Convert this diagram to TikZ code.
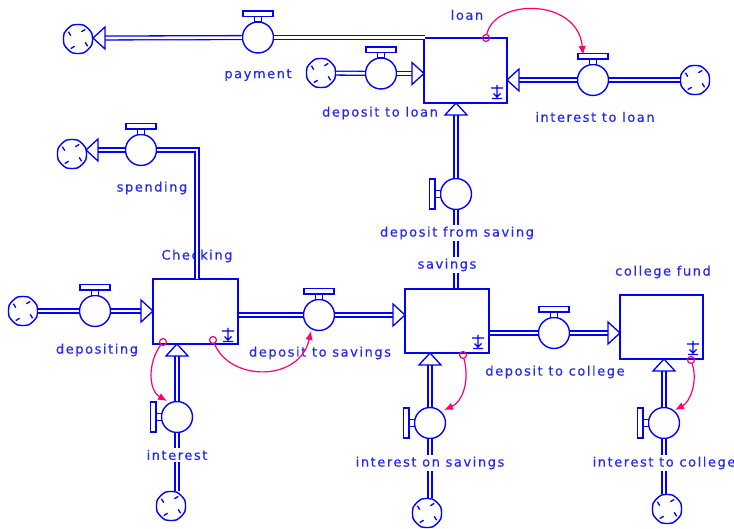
\documentclass[tikz,border=0pt]{standalone}
\usepackage{fontspec}
\newfontfamily\labfont[LetterSpace=12,FakeBold=0.4]{DejaVu Sans}
\usetikzlibrary{arrows.meta}
\definecolor{flowblue}{RGB}{0,0,255}
\definecolor{txtblue}{RGB}{40,40,245}
\definecolor{linkpink}{RGB}{255,0,110}
\tikzset{
  pics/vtop/.style={code={
    \draw[flowblue,line width=1.2pt,fill=white] (-3.5,-15.5) rectangle (3.5,-21);
    \draw[flowblue,line width=1.2pt,fill=white] (-15,-21) rectangle (15,-26.5);}},
  pics/vleft/.style={code={
    \draw[flowblue,line width=1.2pt,fill=white] (-15.5,-3.5) rectangle (-21,3.5);
    \draw[flowblue,line width=1.2pt,fill=white] (-21,-15) rectangle (-26.5,15);}},
  pics/cloudpic/.style={code={
    \draw[flowblue,line width=1.4pt,fill=white] (22.5:15) to[bend left=12] (67.5:15)
      to[bend left=12] (112.5:15) to[bend left=12] (157.5:15) to[bend left=12] (202.5:15)
      to[bend left=12] (247.5:15) to[bend left=12] (292.5:15) to[bend left=12] (337.5:15)
      to[bend left=12] (22.5:15);
    \foreach \a in {25,115,205,295}
      \draw[flowblue,line width=1.3pt] (\a:8) -- ({\a+12}:12);}},
  pics/aR/.style={code={\draw[flowblue,line width=1.3pt,fill=white,line join=miter] (0,0) -- (-12,-11) -- (-12,11) -- cycle;}},
  pics/aL/.style={code={\draw[flowblue,line width=1.3pt,fill=white,line join=miter] (0,0) -- (12,-11) -- (12,11) -- cycle;}},
  pics/aU/.style={code={\draw[flowblue,line width=1.3pt,fill=white,line join=miter] (0,0) -- (-11,12) -- (11,12) -- cycle;}},
  pics/smark/.style={code={
    \draw[flowblue,line width=1.3pt] (0,-7) -- (0,5) (-6,-4) -- (6,-4) (-3.5,1.5) -- (0,5) -- (3.5,1.5) (-5,6.5) -- (5,6.5);}},
  stockbox/.style={draw=flowblue, line width=1.4pt, fill=white, rectangle, inner sep=0},
  valve/.style={circle, draw=flowblue, line width=1.4pt, fill=white, minimum size=31pt, inner sep=0},
  cloudnode/.style={circle, minimum size=30pt, inner sep=0},
  pipe/.style={draw=flowblue, line width=1.3pt, double=white, double distance=2.6pt},
  lab/.style={font={\labfont\fontsize{13pt}{15pt}\selectfont}, text=txtblue, inner sep=1.5pt},
  labw/.style={lab, fill=white},
  linkdot/.style={circle, draw=linkpink, line width=1.2pt, minimum size=7pt, inner sep=0},
  link/.style={draw=linkpink, line width=1.2pt, -{Latex[length=9pt,width=7.5pt]}},
}
\begin{document}
\begin{tikzpicture}[x=1pt,y=-1pt]
\useasboundingbox[fill=white] (0,0) rectangle (734,529);

% stocks
\node[stockbox, minimum width=83pt, minimum height=65pt] (loan) at (465.5,70.5) {};
\node[stockbox, minimum width=85pt, minimum height=65pt] (checking) at (195.5,311.5) {};
\node[stockbox, minimum width=84pt, minimum height=64pt] (savings) at (447,321) {};
\node[stockbox, minimum width=83pt, minimum height=64pt] (college) at (661.5,327) {};
\pic at (497,92) {smark};
\pic at (228,335) {smark};
\pic at (478,342) {smark};
\pic at (693,348) {smark};

\node[lab] (lloan) at (467,15) {loan};
\node[lab] (lchecking) at (197,256) {Checking};
\node[lab] (lcollege) at (663,272) {college fund};

% valves
\node[valve] (payment) at (258,37.5) {};
\node[valve] (dtl) at (381,73.5) {};
\node[valve] (itl) at (593,80) {};
\node[valve] (dfs) at (456,194) {};
\node[valve] (spending) at (141,150) {};
\node[valve] (depositing) at (95,311) {};
\node[valve] (dts) at (319,315) {};
\node[valve] (interest) at (177,417) {};
\node[valve] (ios) at (430,423) {};
\node[valve] (dtc) at (554,333) {};
\node[valve] (itc) at (664,423) {};
\foreach \v in {payment,dtl,itl,spending,depositing,dts,dtc} \pic at (\v) {vtop};
\foreach \v in {dfs,interest,ios,itc} \pic at (\v) {vleft};

% clouds
\node[cloudnode] (c1) at (78,39) {};
\node[cloudnode] (c2) at (321,73) {};
\node[cloudnode] (c3) at (695,80) {};
\node[cloudnode] (c4) at (72,154) {};
\node[cloudnode] (c5) at (23,311) {};
\node[cloudnode] (c6) at (171,506) {};
\node[cloudnode] (c7) at (427,513) {};
\node[cloudnode] (c8) at (667,509) {};
\foreach \c in {c1,c2,c3,c4,c5,c6,c7,c8} \pic at (\c) {cloudpic};

% arrow tips and bases
\coordinate (payS) at (425,37.5);
\coordinate (payTip) at (93,38);   \coordinate (payBase) at (104,38);
\coordinate (dtlTip) at (424,73.5); \coordinate (dtlBase) at (413,73.5);
\coordinate (itlTip) at (507,80);  \coordinate (itlBase) at (518,80);
\coordinate (dfsTip) at (456,103); \coordinate (dfsBase) at (456,114);
\coordinate (spS) at (197,279);
\coordinate (spTip) at (86,150);   \coordinate (spBase) at (97,150);
\coordinate (depTip) at (153,311); \coordinate (depBase) at (142,311);
\coordinate (dtsTip) at (405,315); \coordinate (dtsBase) at (394,315);
\coordinate (intTip) at (177,344); \coordinate (intBase) at (177,355);
\coordinate (iosTip) at (430,353); \coordinate (iosBase) at (430,364);
\coordinate (dtcTip) at (620,333); \coordinate (dtcBase) at (609,333);
\coordinate (itcTip) at (664,359); \coordinate (itcBase) at (664,370);

% pipes
\draw[pipe] (payS) -- (payment);
\draw[pipe] (payment) -- (payBase);
\draw[pipe] (c2) -- (dtl);
\draw[pipe] (dtl) -- (dtlBase);
\draw[pipe] (c3) -- (itl);
\draw[pipe] (itl) -- (itlBase);
\draw[pipe] (savings.north -| dfs) -- (dfs);
\draw[pipe] (dfs) -- (dfsBase);
\draw[pipe] (spS) |- (spending);
\draw[pipe] (spending) -- (spBase);
\draw[pipe] (c5) -- (depositing);
\draw[pipe] (depositing) -- (depBase);
\draw[pipe] (checking.east |- dts) -- (dts);
\draw[pipe] (dts) -- (dtsBase);
\draw[pipe] (c6.north -| interest) -- (interest);
\draw[pipe] (interest) -- (intBase);
\draw[pipe] (c7.north -| ios) -- (ios);
\draw[pipe] (ios) -- (iosBase);
\draw[pipe] (savings.east |- dtc) -- (dtc);
\draw[pipe] (dtc) -- (dtcBase);
\draw[pipe] (c8.north -| itc) -- (itc);
\draw[pipe] (itc) -- (itcBase);

\pic at (payTip) {aL};
\pic at (dtlTip) {aR};
\pic at (itlTip) {aL};
\pic at (dfsTip) {aU};
\pic at (spTip) {aL};
\pic at (depTip) {aR};
\pic at (dtsTip) {aR};
\pic at (intTip) {aU};
\pic at (iosTip) {aU};
\pic at (dtcTip) {aR};
\pic at (itcTip) {aU};

% labels
\node[lab] (lpayment) at (258,75) {payment};
\node[labw, inner sep=3pt] (ldtl) at (380,113) {deposit to loan};
\node[lab] (litl) at (595,117) {interest to loan};
\node[labw] (ldfs) at (457,233) {deposit from saving};
\node[labw] (lsavings) at (447,265) {savings};
\node[lab] (lspending) at (152,188) {spending};
\node[lab] (ldepositing) at (97,350) {depositing};
\node[lab] (ldts) at (320,353) {deposit to savings};
\node[labw] (linterest) at (177,455) {interest};
\node[labw] (lios) at (430,463) {interest on savings};
\node[lab] (ldtc) at (555,372) {deposit to college};
\node[labw] (litc) at (664,463) {interest to college};

% information links
\node[linkdot] (d1) at (486,38) {};
\node[linkdot] (d2) at (163,342) {};
\node[linkdot] (d3) at (213,340) {};
\node[linkdot] (d4) at (463,355) {};
\node[linkdot] (d5) at (691,360) {};
\coordinate (e1) at (583,55);
\coordinate (e2) at (167,401);
\coordinate (e3) at (311,331);
\coordinate (e4) at (444,410);
\coordinate (e5) at (675,410);
\draw[link] (d1) .. controls (495,-2) and (578,-2) .. (e1);
\draw[link] (d2) .. controls (148,362) and (148,390) .. (e2);
\draw[link] (d3) .. controls (230,382) and (300,382) .. (e3);
\draw[link] (d4) .. controls (470,382) and (462,402) .. (e4);
\draw[link] (d5) .. controls (698,382) and (690,402) .. (e5);
\end{tikzpicture}
\end{document}
